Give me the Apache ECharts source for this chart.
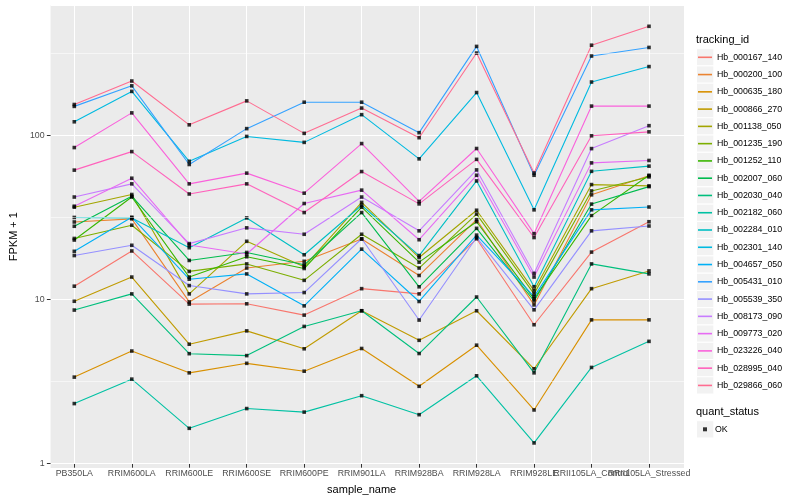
<!DOCTYPE html>
<html><head><meta charset="utf-8">
<script src="https://cdn.jsdelivr.net/npm/echarts@6/dist/echarts.min.js"></script>
<style>html,body{margin:0;padding:0;background:#fff}#c{width:800px;height:500px}</style>
</head><body><div id="c"></div>
<script>
const categories = ['PB350LA','RRIM600LA','RRIM600LE','RRIM600SE','RRIM600PE','RRIM901LA','RRIM928BA','RRIM928LA','RRIM928LE','RRII105LA_Control','RRII105LA_Stressed'];
const trackingIds = ['Hb_000167_140','Hb_000200_100','Hb_000635_180','Hb_000866_270','Hb_001138_050','Hb_001235_190','Hb_001252_110','Hb_002007_060','Hb_002030_040','Hb_002182_060','Hb_002284_010','Hb_002301_140','Hb_004657_050','Hb_005431_010','Hb_005539_350','Hb_008173_090','Hb_009773_020','Hb_023226_040','Hb_028995_040','Hb_029866_060'];
const colors = ['#F8766D','#EA8331','#D89000','#C09B00','#A3A500','#7CAE00','#39B600','#00BB4E','#00BF7D','#00C1A3','#00BFC4','#00BAE0','#00B0F6','#35A2FF','#9590FF','#C77CFF','#E76BF3','#FA62DB','#FF62BC','#FF6C91'];

// FPKM + 1 values per tracking_id, in category order
const hb_000167_140 = [11.6, 19.1, 9.0, 9.04, 7.7, 11.2, 10.4, 22.7, 6.72, 18.8, 28.9];
const hb_000200_100 = [28.8, 30.1, 9.28, 15.0, 16.5, 22.6, 13.5, 29.8, 8.9, 42.3, 55.4];
const hb_000635_180 = [3.2, 4.63, 3.4, 3.89, 3.48, 4.8, 2.81, 5.03, 2.01, 7.2, 7.2];
const hb_000866_270 = [9.37, 13.2, 5.1, 6.16, 4.78, 8.19, 5.39, 8.19, 3.6, 11.2, 14.4];
const hb_001138_050 = [35.5, 42.5, 10.4, 21.9, 15.3, 38.0, 17.4, 34.0, 10.9, 48.9, 48.0];
const hb_001235_190 = [22.8, 27.5, 14.3, 15.9, 12.6, 24.2, 15.0, 32.2, 10.4, 44.7, 54.5];
const hb_001252_110 = [22.3, 41.0, 13.2, 17.6, 14.9, 35.5, 16.3, 28.9, 9.7, 31.5, 55.8];
const hb_002007_060 = [27.1, 41.5, 16.7, 18.7, 15.7, 32.9, 11.5, 26.3, 9.4, 37.1, 47.5];
const hb_002030_040 = [8.27, 10.4, 4.46, 4.34, 6.56, 8.19, 4.47, 9.95, 3.4, 15.9, 13.8];
const hb_002182_060 = [2.2, 3.11, 1.55, 2.05, 1.95, 2.46, 1.88, 3.26, 1.26, 3.67, 5.31];
const hb_002284_010 = [30.7, 30.5, 20.0, 30.5, 18.1, 36.5, 17.9, 51.5, 11.5, 59.0, 63.5];
const hb_002301_140 = [119, 183, 68, 96.7, 88.9, 131.6, 70.4, 180, 34.2, 209, 260];
const hb_004657_050 = [19.0, 30.8, 12.8, 13.8, 8.78, 19.6, 9.34, 23.9, 10.0, 34.2, 35.6];
const hb_005431_010 = [148, 198, 65, 108, 157, 157, 102, 346, 55.8, 302, 341];
const hb_005539_350 = [17.9, 20.7, 11.7, 10.4, 10.6, 22.7, 7.18, 23.1, 8.3, 25.4, 27.2];
const hb_008173_090 = [41, 49.4, 21.2, 26.5, 24.2, 41.0, 25.4, 60.2, 13.9, 81.4, 112.6];
const hb_009773_020 = [36, 53.5, 20.8, 18.3, 37.4, 45.2, 22.4, 55.8, 13.2, 66.5, 68.8];
const hb_023226_040 = [82.6, 135, 49.4, 57.5, 43.3, 87.4, 38.5, 81.5, 24.4, 148.6, 148.6];
const hb_028995_040 = [60, 78, 42.8, 49.4, 32.9, 58.8, 37.2, 69.9, 23.1, 97.6, 103.2];
const hb_029866_060 = [152, 212, 114, 160, 101, 144.5, 95, 315, 57.6, 352, 460];

const seriesValues = [hb_000167_140, hb_000200_100, hb_000635_180, hb_000866_270, hb_001138_050, hb_001235_190, hb_001252_110, hb_002007_060, hb_002030_040, hb_002182_060, hb_002284_010, hb_002301_140, hb_004657_050, hb_005431_010, hb_005539_350, hb_008173_090, hb_009773_020, hb_023226_040, hb_028995_040, hb_029866_060];

const yTicks = [1, 10, 100];
const minorBreaks = [3.162, 31.62, 316.2];
const quantStatus = ['OK'];

const FONT = 'Liberation Sans, Arial, Helvetica, sans-serif';
const Y_MIN = 0.935, Y_MAX = 622;
const chart = echarts.init(document.getElementById('c'), null, {renderer: 'canvas'});

const lineSeries = trackingIds.map((id, k) => ({
  name: id, type: 'line', xAxisIndex: 1, yAxisIndex: 1,
  data: seriesValues[k], color: colors[k], symbol: 'none',
  lineStyle: {width: 1.1, color: colors[k]}, itemStyle: {color: colors[k]},
  z: 3, silent: true, animation: false
}));
const okPoints = [];
seriesValues.forEach(vals => vals.forEach((v, i) => okPoints.push([categories[i], v])));

// legend key backgrounds
const keyTop0 = 57.3, keyStep = 17.27;
const keyBoxes = trackingIds.map((id, k) => ({
  type: 'rect', z: 1, silent: true,
  shape: {x: 696.5, y: keyTop0 + k * keyStep - keyStep / 2, width: 17.3, height: keyStep},
  style: {fill: '#F2F2F2', stroke: '#fff', lineWidth: 1}
}));
keyBoxes.push({type: 'rect', z: 1, silent: true,
  shape: {x: 696.5, y: 429.3 - keyStep / 2, width: 17.3, height: keyStep},
  style: {fill: '#F2F2F2', stroke: '#fff', lineWidth: 1}});

chart.setOption({
  animation: false,
  textStyle: {fontFamily: FONT},
  title: [
    {text: 'tracking_id', left: 696, top: 34, padding: 0, textStyle: {fontSize: 11, fontWeight: 'normal', color: '#000', fontFamily: FONT}},
    {text: 'quant_status', left: 696, top: 406, padding: 0, textStyle: {fontSize: 11, fontWeight: 'normal', color: '#000', fontFamily: FONT}}
  ],
  graphic: keyBoxes,
  legend: [
    {data: trackingIds, orient: 'vertical', left: 698, top: keyTop0 - keyStep / 2, padding: 0, itemGap: 0,
     itemWidth: 14, itemHeight: 1.6, icon: 'rect', selectedMode: false, z: 5,
     textStyle: {fontSize: 8.8, color: '#000', lineHeight: keyStep, fontFamily: FONT}},
    {data: quantStatus, orient: 'vertical', left: 703, top: 429.3 - keyStep / 2, padding: 0, itemGap: 0,
     itemWidth: 4, itemHeight: 4, icon: 'rect', selectedMode: false, z: 5,
     textStyle: {fontSize: 8.8, color: '#000', lineHeight: keyStep, padding: [0, 0, 0, 3], fontFamily: FONT}}
  ],
  grid: [
    {left: 40, top: 5, width: 644, height: 463.3, show: true, backgroundColor: '#EBEBEB', borderWidth: 0, containLabel: false},
    {left: 74.3, top: 5, width: 574.7, height: 463.3, show: false, containLabel: false}
  ],
  xAxis: [
    {gridIndex: 0, type: 'value', min: 0, max: 1, show: false},
    {gridIndex: 1, type: 'category', data: categories, boundaryGap: false,
     name: 'sample_name', nameLocation: 'middle', nameGap: 20,
     nameTextStyle: {fontSize: 11, color: '#000', fontFamily: FONT},
     axisLine: {show: false},
     axisTick: {show: true, length: 3.7, lineStyle: {color: '#333', width: 1}},
     axisLabel: {interval: 0, hideOverlap: false, fontSize: 8.8, color: '#4D4D4D', margin: 5, fontFamily: FONT},
     splitLine: {show: true, lineStyle: {color: '#FFFFFF', width: 1.07}}}
  ],
  yAxis: [
    {gridIndex: 0, type: 'log', logBase: 10, min: Y_MIN, max: Y_MAX,
     name: 'FPKM + 1', nameLocation: 'middle', nameGap: 27, nameRotate: 90,
     nameTextStyle: {fontSize: 11, color: '#000', fontFamily: FONT},
     axisLine: {show: false},
     axisTick: {show: true, length: 3.7, lineStyle: {color: '#333', width: 1}},
     axisLabel: {fontSize: 8.8, color: '#4D4D4D', margin: 6, showMinLabel: false, showMaxLabel: false,
       formatter: v => (yTicks.indexOf(Math.round(v * 1000) / 1000) >= 0 ? String(Math.round(v)) : ''), fontFamily: FONT},
     splitLine: {show: true, lineStyle: {color: '#FFFFFF', width: 1.07}}},
    {gridIndex: 1, type: 'log', logBase: 10, min: Y_MIN, max: Y_MAX, show: false, splitLine: {show: false}}
  ],
  series: [
    {type: 'line', name: 'minor', xAxisIndex: 0, yAxisIndex: 0, data: [[0, 10]], symbol: 'none',
     lineStyle: {opacity: 0}, silent: true, z: 1,
     markLine: {silent: true, symbol: 'none', label: {show: false}, animation: false,
       lineStyle: {color: '#FFFFFF', width: 0.55, type: 'solid'},
       data: minorBreaks.map(v => ({yAxis: v}))}},
    ...lineSeries,
    {type: 'scatter', name: 'OK', xAxisIndex: 1, yAxisIndex: 1, data: okPoints,
     symbol: 'rect', symbolSize: 3.6, itemStyle: {color: '#000'}, color: '#000', z: 4, silent: true}
  ]
});
</script></body></html>
